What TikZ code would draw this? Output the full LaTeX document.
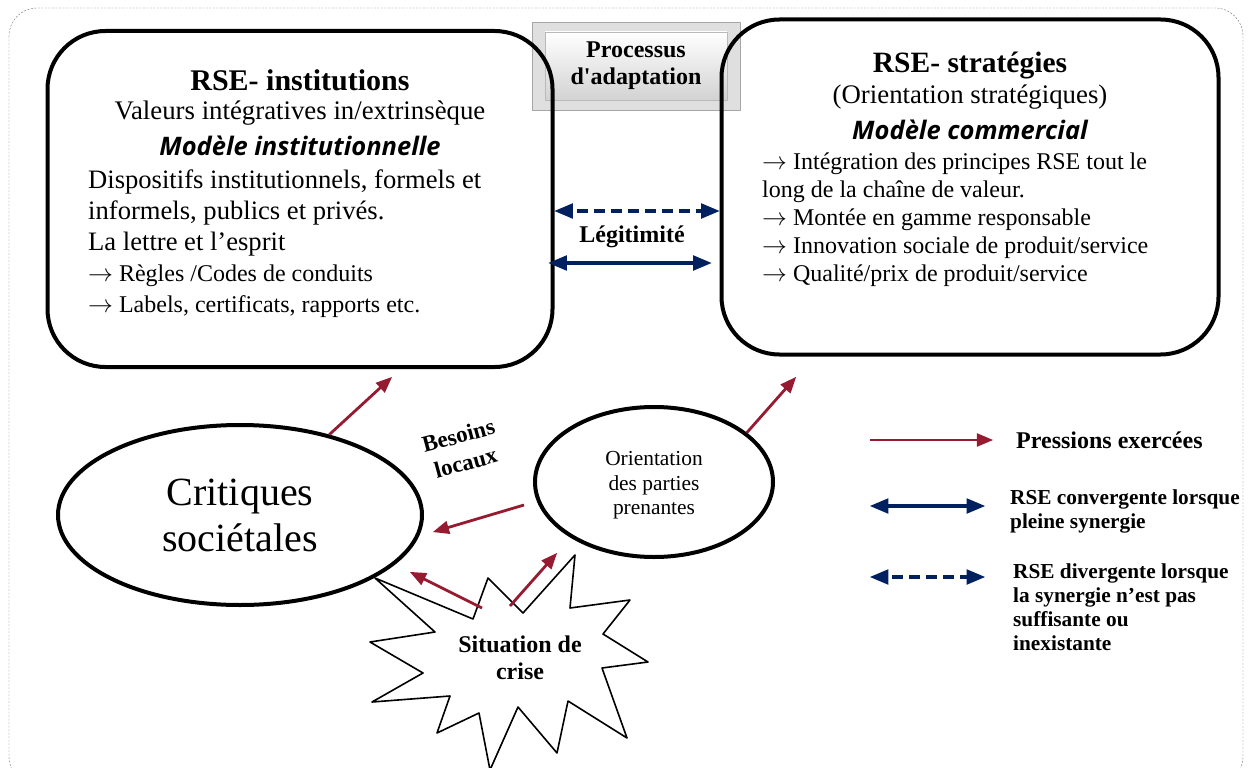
\documentclass[tikz,border=0pt]{standalone}
\usepackage{fontspec}
\setmainfont{Liberation Serif}
\newfontfamily\modfont{Open Sans}
\usetikzlibrary{
  arrows,
  shapes.geometric,
  positioning
}
\definecolor{pressred}{RGB}{150,27,48}
\definecolor{synblue}{RGB}{0,32,96}
\newcommand{\ar}{$\rightarrow$}
\tikzset{
  bigbox/.style={draw,line width=4pt,rounded corners=58pt,inner sep=0pt},
  bubble/.style={draw,ellipse,line width=4pt,inner sep=0pt,align=center},
  press/.style={->,draw=pressred,line width=2.8pt},
  syn/.style={<->,draw=synblue,line width=3.4pt},
  synd/.style={syn,dash pattern=on 11pt off 6pt},
  legtext/.style={anchor=west,align=left,inner sep=0pt,font=\bfseries\fontsize{21.3}{24}\selectfont}
}

\begin{document}
\begin{tikzpicture}[line join=round,>=triangle 45,x=1pt,y=-1pt]
\useasboundingbox (0,0) rectangle (1248,768);
\clip (0,0) rectangle (1248,768);
\draw [black!55,dash pattern=on 2pt off 1.5pt,rounded corners=28pt] (9,8) rectangle (1243,785);

% processus d'adaptation
\node [draw=gray!70,fill=gray!25,minimum width=208pt,minimum height=88pt] (procframe) at (636,66) {};
\node [draw=gray!55,top color=white,bottom color=gray!35,minimum width=182pt,minimum height=68pt,
  align=center,font=\bfseries\fontsize{24}{27}\selectfont] (proc) at (636,66) {Processus\\d\textquotesingle adaptation};

% the two boxes
\node [bigbox,minimum width=505pt,minimum height=336pt] (inst) at (300,199) {};
\node [bigbox,minimum width=497pt,minimum height=335pt] (strat) at (970,187) {};

\node [font=\bfseries\fontsize{30}{32}\selectfont] (insttitle) at (300,80) {RSE- institutions};
\node [font=\fontsize{26.8}{28}\selectfont] (instval) at (300,113) {Valeurs intégratives in/extrinsèque};
\node [font=\modfont\bfseries\itshape\fontsize{25.5}{28}\selectfont] (instmod) at (300,146) {Modèle institutionnelle};
\node [anchor=north west,align=left,inner sep=0pt,font=\fontsize{26.6}{31}\selectfont] (insttext) at (88,170)
  {Dispositifs institutionnels, formels et\\informels, publics et privés.\\La lettre et l’esprit\\
   {\fontsize{24}{31}\selectfont \ar{} Règles /Codes de conduits}\\{\fontsize{24}{31}\selectfont \ar{} Labels, certificats, rapports etc.}};

\node [font=\bfseries\fontsize{29.5}{32}\selectfont] (strattitle) at (970,66) {RSE- stratégies};
\node [font=\fontsize{26.8}{28}\selectfont] (stratorient) at (970,97) {(Orientation stratégiques)};
\node [font=\modfont\bfseries\itshape\fontsize{25.5}{28}\selectfont] (stratmod) at (970,130) {Modèle commercial};
\node [anchor=north west,align=left,inner sep=0pt,font=\fontsize{24}{28}\selectfont] (strattext) at (762,153)
  {\ar{} Intégration des principes RSE tout le\\long de la chaîne de valeur.\\\ar{} Montée en gamme responsable\\
   \ar{} Innovation sociale de produit/service\\\ar{} Qualité/prix de produit/service};

% legitimite
\node [font=\bfseries\fontsize{24}{26}\selectfont] (legit) at (632,237) {Légitimité};
\draw [synd] ([yshift=-12pt]inst.east) -- ([yshift=-24pt]strat.west);
\draw [syn,shorten >=8pt] ([yshift=-64pt,xshift=-6pt]inst.east) -- ([yshift=-76pt]strat.west);

% ellipses
\node [bubble,minimum width=364pt,minimum height=180pt,font=\fontsize{40}{46}\selectfont] (crit) at (240,515) {Critiques\\sociétales};
\node [bubble,minimum width=238pt,minimum height=150pt,font=\fontsize{21.4}{24.5}\selectfont] (orient) at (654,482) {\\[-3pt]Orientation\\des parties\\prenantes};
\node [rotate=15,align=center,font=\bfseries\fontsize{23}{28}\selectfont] (besoins) at (462,449) {Besoins\\locaux};

% situation de crise
\draw [line width=1.6pt] (375,578) -- (473,619) -- (488,578) -- (523,613) -- (575,555) -- (570,608)
  -- (630,600) -- (603,634) -- (648,662) -- (602,668) -- (627,738) -- (568,701) -- (557,753)
  -- (518,707) -- (490,770) -- (479,713) -- (437,733) -- (450,696) -- (372,702) -- (423,673)
  -- (370,642) -- (435,632) -- cycle;
\node [align=center,font=\bfseries\fontsize{24}{27}\selectfont] (crise) at (520,658) {Situation de\\crise};

% pressions
\coordinate (instfoot) at (392,377);
\coordinate (stratfoot) at (796,377);
\coordinate (orientside) at (524,505);
\coordinate (critside) at (433,532);
\coordinate (critfoot) at (410,572);
\coordinate (orientfoot) at (557,553);
\coordinate (criseA) at (482,608);
\coordinate (criseB) at (510,606);
\draw [press] (crit.42) -- (instfoot);
\draw [press] (orient.28) -- (stratfoot);
\draw [press] (orientside) -- (critside);
\draw [press] (criseA) -- (critfoot);
\draw [press] (criseB) -- (orientfoot);

% legend
\coordinate (lgpa) at (870,440);
\coordinate (lgpb) at (993,440);
\coordinate (lgca) at (870,506);
\coordinate (lgcb) at (985,506);
\coordinate (lgda) at (870,577);
\coordinate (lgdb) at (985,577);
\draw [press] (lgpa) -- (lgpb);
\draw [syn] (lgca) -- (lgcb);
\draw [synd] (lgda) -- (lgdb);
\node [legtext,font=\bfseries\fontsize{24}{24}\selectfont] (lgptxt) at (1016,440) {Pressions exercées};
\node [legtext,anchor=north west] (lgctxt) at (1010,490) {RSE convergente lorsque\\pleine synergie};
\node [legtext,anchor=north west] (lgdtxt) at (1013,564) {RSE divergente lorsque\\la synergie n’est pas\\suffisante ou\\inexistante};
\end{tikzpicture}
\end{document}
